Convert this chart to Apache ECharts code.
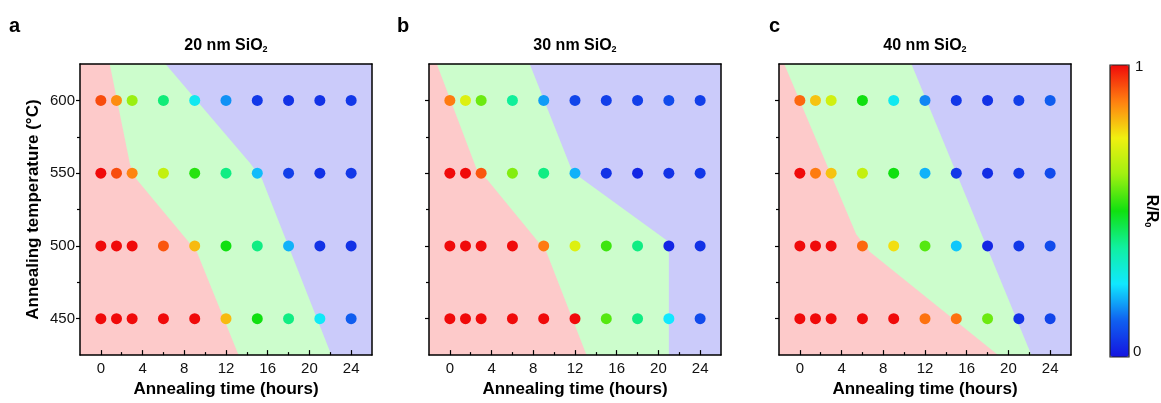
<!DOCTYPE html>
<html><head><meta charset="utf-8">
<script src="https://cdn.jsdelivr.net/npm/echarts@6/dist/echarts.min.js"></script>
<style>html,body{margin:0;padding:0;background:#fff}#c{width:1161px;height:403px}</style>
</head><body><div id="c"></div>
<script>
// ---- data ----
const times = [0, 1.5, 3, 6, 9, 12, 15, 18, 21, 24];
const temps = [450, 500, 550, 600];
const panelTitles = ['20 nm SiO', '30 nm SiO', '40 nm SiO'];
const panelLetters = ['a', 'b', 'c'];
const xTickLabels = [0, 4, 8, 12, 16, 20, 24];
const xMinorTicks = [2, 6, 10, 14, 18, 22];
const yTickLabels = [450, 500, 550, 600];
const yMinorTicks = [475, 525, 575];

// R/R0 values, rows = temps (450,500,550,600), cols = times
const rA450 = [1, 1, 1, 1, 1, 0.81, 0.5, 0.4, 0.26, 0.12];
const rA500 = [1, 1, 1, 0.92, 0.81, 0.5, 0.4, 0.2, 0.05, 0.05];
const rA550 = [1, 0.93, 0.87, 0.68, 0.52, 0.4, 0.21, 0.07, 0.05, 0.06];
const rA600 = [0.93, 0.86, 0.62, 0.41, 0.27, 0.17, 0.06, 0.05, 0.05, 0.06];

const rB450 = [1, 1, 1, 1, 1, 1, 0.56, 0.4, 0.25, 0.09];
const rB500 = [1, 1, 1, 1, 0.88, 0.72, 0.54, 0.4, 0.03, 0.05];
const rB550 = [1, 1, 0.92, 0.6, 0.4, 0.2, 0.05, 0.03, 0.05, 0.06];
const rB600 = [0.88, 0.72, 0.58, 0.38, 0.18, 0.08, 0.07, 0.07, 0.09, 0.07];

const rC450 = [1, 1, 1, 1, 1, 0.89, 0.89, 0.58, 0.05, 0.08];
const rC500 = [1, 1, 1, 0.9, 0.77, 0.56, 0.22, 0.03, 0.06, 0.09];
const rC550 = [1, 0.88, 0.8, 0.68, 0.5, 0.2, 0.06, 0.04, 0.06, 0.09];
const rC600 = [0.9, 0.8, 0.7, 0.5, 0.27, 0.16, 0.06, 0.05, 0.07, 0.12];

// region boundaries (time, temperature)
const bgRect = [[-2, 425], [-2, 625], [26, 625], [26, 425]];
const redA = [[-2, 425], [-2, 625], [0.85, 625], [2.8, 556], [3.4, 546], [9.2, 496], [13.2, 425]];
const blueA = [[6.2, 625], [26, 625], [26, 425], [22.1, 425], [15.45, 546], [14.3, 557]];
const redB = [[-2, 425], [-2, 625], [-1.25, 625], [2.55, 553], [3.65, 545], [9.25, 496], [13.1, 425]];
const blueB = [[7.66, 625], [26, 625], [26, 425], [21, 425], [21, 500], [20.75, 504], [12.4, 547.6], [11.64, 553]];
const redC = [[-2, 425], [-2, 625], [-1.5, 625], [5.4, 508], [6.7, 496], [19, 425]];
const blueC = [[10.7, 625], [26, 625], [26, 425], [22.2, 425]];

// ---- build ----
const FONT = 'Liberation Sans, Arial, sans-serif';
const panels = [
  { rows: [rA450, rA500, rA550, rA600], red: redA, blue: blueA, left: 80 },
  { rows: [rB450, rB500, rB550, rB600], red: redB, blue: blueB, left: 429 },
  { rows: [rC450, rC500, rC550, rC600], red: redC, blue: blueC, left: 779 }
];
const GW = 292, GT = 64, GH = 294;
const grids = [], xAxes = [], yAxes = [], series = [], graphics = [];
const scatterIdx = [];

panels.forEach((p, i) => {
  grids.push({ left: p.left, top: GT, width: GW, height: GH });
  const common = { gridIndex: i, min: -2, max: 26, interval: 2, splitLine: { show: false }, z: 10 };
  xAxes.push(Object.assign({}, common, {
    type: 'value', position: 'bottom',
    axisLine: { show: true, onZero: false, lineStyle: { color: '#000', width: 1.5 } },
    axisTick: { show: true, inside: true, length: 5, customValues: xTickLabels, lineStyle: { color: '#000', width: 1.2 } },
    axisLabel: { show: true, customValues: xTickLabels, margin: 6, fontSize: 15, color: '#111', fontFamily: FONT },
    name: 'Annealing time (hours)', nameLocation: 'middle', nameGap: 22,
    nameTextStyle: { fontSize: 17, fontWeight: 'bold', color: '#000', fontFamily: FONT, verticalAlign: 'top' }
  }));
  xAxes.push(Object.assign({}, common, {
    type: 'value', position: 'bottom',
    axisLine: { show: false, onZero: false },
    axisTick: { show: true, inside: true, length: 3, customValues: xMinorTicks, lineStyle: { color: '#000', width: 1.2 } },
    axisLabel: { show: false }
  }));
  xAxes.push(Object.assign({}, common, {
    type: 'value', position: 'top',
    axisLine: { show: true, onZero: false, lineStyle: { color: '#000', width: 1.5 } },
    axisTick: { show: false }, axisLabel: { show: false }
  }));
  const ycommon = { gridIndex: i, min: 425, max: 625, interval: 25, splitLine: { show: false }, z: 10, type: 'value' };
  yAxes.push(Object.assign({}, ycommon, {
    position: 'left',
    axisLine: { show: true, onZero: false, lineStyle: { color: '#000', width: 1.5 } },
    axisTick: { show: true, inside: false, length: 4, customValues: yTickLabels, lineStyle: { color: '#000', width: 1.2 } },
    axisLabel: { show: i === 0, customValues: yTickLabels, margin: 5, fontSize: 15, color: '#111', fontFamily: FONT },
    name: i === 0 ? 'Annealing temperature (°C)' : '', nameLocation: 'middle', nameGap: 38,
    nameTextStyle: { fontSize: 17, fontWeight: 'bold', color: '#000', fontFamily: FONT }
  }));
  yAxes.push(Object.assign({}, ycommon, {
    position: 'left',
    axisLine: { show: false, onZero: false },
    axisTick: { show: true, inside: false, length: 3, customValues: yMinorTicks, lineStyle: { color: '#000', width: 1.2 } },
    axisLabel: { show: false }
  }));
  yAxes.push(Object.assign({}, ycommon, {
    position: 'right',
    axisLine: { show: true, onZero: false, lineStyle: { color: '#000', width: 1.5 } },
    axisTick: { show: false }, axisLabel: { show: false }
  }));

  const polys = [
    { pts: bgRect, fill: '#ccfdcc' },
    { pts: p.red, fill: '#fdcaca' },
    { pts: p.blue, fill: '#cbcbfa' }
  ];
  series.push({
    type: 'custom', xAxisIndex: 3 * i, yAxisIndex: 3 * i, silent: true, z: 1,
    data: polys.map((q, k) => [k, 0]),
    renderItem: function (params, api) {
      const q = polys[params.dataIndex];
      return { type: 'polygon', shape: { points: q.pts.map(v => api.coord(v)) }, style: { fill: q.fill } };
    }
  });

  const pts = [];
  temps.forEach((t, r) => times.forEach((h, c) => pts.push([h, t, p.rows[r][c]])));
  scatterIdx.push(series.length);
  series.push({
    type: 'scatter', xAxisIndex: 3 * i, yAxisIndex: 3 * i, symbolSize: 11, z: 5,
    data: pts, itemStyle: { opacity: 1 }
  });

  const cx = p.left + GW / 2;
  graphics.push({
    type: 'text', x: cx, y: 46,
    style: {
      text: '{b|' + panelTitles[i] + '}{s|2}', align: 'center', verticalAlign: 'middle',
      rich: {
        b: { fontSize: 16, fontWeight: 'bold', fontFamily: FONT, fill: '#000' },
        s: { fontSize: 9, fontWeight: 'bold', fontFamily: FONT, fill: '#000', padding: [7, 0, 0, 0] }
      }
    }
  });
});

graphics.push({ type: 'text', x: 9, y: 26, style: { text: 'a', fontSize: 20, fontWeight: 'bold', fontFamily: FONT, fill: '#000', verticalAlign: 'middle' } });
graphics.push({ type: 'text', x: 397, y: 26, style: { text: 'b', fontSize: 20, fontWeight: 'bold', fontFamily: FONT, fill: '#000', verticalAlign: 'middle' } });
graphics.push({ type: 'text', x: 769, y: 26, style: { text: 'c', fontSize: 20, fontWeight: 'bold', fontFamily: FONT, fill: '#000', verticalAlign: 'middle' } });
graphics.push({ type: 'text', x: 1135, y: 67, style: { text: '1', fontSize: 15, fontFamily: FONT, fill: '#111', verticalAlign: 'middle' } });
graphics.push({ type: 'text', x: 1133, y: 352, style: { text: '0', fontSize: 15, fontFamily: FONT, fill: '#111', verticalAlign: 'middle' } });
graphics.push({
  type: 'rect', z: 100, silent: true,
  shape: { x: 1110, y: 65, width: 19, height: 292 },
  style: { fill: null, stroke: '#222', lineWidth: 1.2 }
});
graphics.push({
  type: 'text', x: 1151, y: 211, rotation: -Math.PI / 2,
  style: {
    text: '{b|R/R}{s|0}', align: 'center', verticalAlign: 'middle',
    rich: {
      b: { fontSize: 16, fontWeight: 'bold', fontFamily: FONT, fill: '#000' },
      s: { fontSize: 9, fontWeight: 'bold', fontFamily: FONT, fill: '#000', padding: [7, 0, 0, 0] }
    }
  }
});

const chart = echarts.init(document.getElementById('c'), null, { renderer: 'canvas' });
chart.setOption({
  animation: false,
  backgroundColor: '#fff',
  grid: grids, xAxis: xAxes, yAxis: yAxes, series: series,
  visualMap: {
    type: 'continuous', min: 0, max: 1, dimension: 2, seriesIndex: scatterIdx,
    calculable: false, show: true, orient: 'vertical',
    left: 1110, top: 65, itemWidth: 19, itemHeight: 292, padding: 0,
    text: null, showLabel: false,
    inRange: { color: ['#1414e0', '#1060f0', '#10e8ff', '#10f0a0', '#10e010', '#a0f010', '#f0f010', '#ff8010', '#f00a0a'] }
  },
  graphic: graphics
});
</script></body></html>
